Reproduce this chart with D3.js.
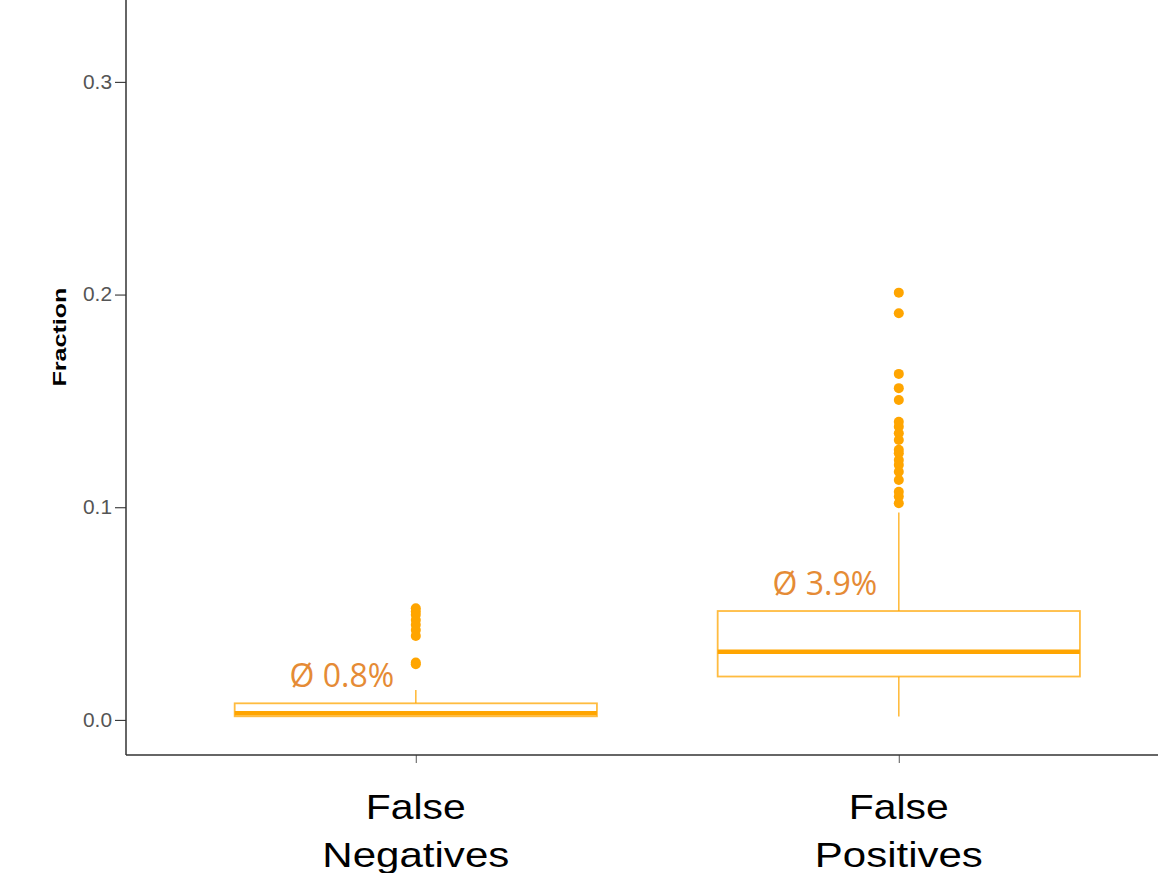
<!DOCTYPE html>
<html>
<head>
<meta charset="utf-8">
<script src="https://cdn.jsdelivr.net/npm/d3@7/dist/d3.min.js"></script>
<style>
  html, body { margin: 0; padding: 0; background: #ffffff; }
  svg { display: block; }
</style>
</head>
<body>
<svg id="chart" width="1158" height="873"></svg>
<script>
// Categories and their per-group box statistics (fractions)
const categories = ["False\nNegatives", "False\nPositives"];
const lowerWhisker = [0.0017, 0.0016];
const q1 = [0.0017, 0.0204];
const median = [0.0031, 0.0321];
const q3 = [0.0078, 0.0512];
const upperWhisker = [0.0141, 0.0975];
const meanLabels = ["Ø 0.8%", "Ø 3.9%"];

// Outlying observations per category
const outliersFN = [0.0525, 0.0510, 0.0494, 0.0470, 0.0447, 0.0423, 0.0395, 0.0270, 0.0262];
const outliersFP = [0.2009, 0.1912, 0.1627, 0.1560, 0.1504, 0.1402, 0.1379, 0.1348, 0.1316,
                    0.1270, 0.1254, 0.1222, 0.1199, 0.1167, 0.1128, 0.1073, 0.1050, 0.1019];
const outliers = [outliersFN, outliersFP];

const yTicks = [0.0, 0.1, 0.2, 0.3];

const svg = d3.select("#chart");
const mLeft = 126, mBottom = 755, mTop = 0, mRight = 1188.6;

const x = d3.scalePoint().domain(categories).range([mLeft, mRight]).padding(0.6);
const y = d3.scaleLinear().domain([-0.0165, 0.3385]).range([mBottom, mTop]);
const boxW = x.step() * 0.75;

const orange = "#FFA500";
const sans = "'Liberation Sans', Arial, sans-serif";

// Y axis
const yAxis = svg.append("g")
  .attr("transform", `translate(${mLeft},0)`)
  .call(d3.axisLeft(y).tickValues(yTicks).tickFormat(d3.format(".1f")).tickSize(11).tickPadding(3));
yAxis.select(".domain").remove();
yAxis.selectAll(".tick line").attr("stroke", "#333333").attr("stroke-width", 1.1);
yAxis.selectAll(".tick text")
  .attr("fill", "#555555")
  .attr("textLength", 29)
  .attr("lengthAdjust", "spacingAndGlyphs")
  .style("font-family", sans)
  .style("font-size", "20px");

// X axis
const xAxis = svg.append("g")
  .attr("transform", `translate(0,${mBottom})`)
  .call(d3.axisBottom(x).tickSize(8).tickFormat(""));
xAxis.select(".domain").remove();
xAxis.selectAll(".tick line").attr("stroke", "#666666").attr("stroke-width", 1.1);

// Category labels on two lines
const labelWidths = [[100, 187], [100, 168]];
categories.forEach((c, i) => {
  const lines = c.split("\n");
  lines.forEach((ln, j) => {
    svg.append("text")
      .attr("x", x(c))
      .attr("y", 819 + j * 48)
      .attr("text-anchor", "middle")
      .attr("textLength", labelWidths[i][j])
      .attr("lengthAdjust", "spacingAndGlyphs")
      .style("font-family", sans)
      .style("font-size", "35px")
      .attr("fill", "#000000")
      .text(ln);
  });
});

// Axis lines
svg.append("line").attr("x1", mLeft).attr("x2", mLeft).attr("y1", mTop).attr("y2", mBottom)
  .attr("stroke", "#333333").attr("stroke-width", 1.5);
svg.append("line").attr("x1", mLeft).attr("x2", 1158).attr("y1", mBottom).attr("y2", mBottom)
  .attr("stroke", "#333333").attr("stroke-width", 1.5);

// Y axis title
svg.append("text")
  .attr("transform", `translate(65.5,${y(0.18)}) rotate(-90)`)
  .attr("text-anchor", "middle")
  .attr("textLength", 99)
  .attr("lengthAdjust", "spacingAndGlyphs")
  .style("font-family", sans)
  .style("font-size", "19px")
  .style("font-weight", "bold")
  .attr("fill", "#000000")
  .text("Fraction");

// Boxes
const g = svg.append("g");
categories.forEach((c, i) => {
  const cx = x(c);
  // whiskers
  g.append("line").attr("x1", cx).attr("x2", cx)
    .attr("y1", y(q3[i])).attr("y2", y(upperWhisker[i]))
    .attr("stroke", orange).attr("stroke-opacity", 0.75).attr("stroke-width", 1.6);
  g.append("line").attr("x1", cx).attr("x2", cx)
    .attr("y1", y(q1[i])).attr("y2", y(lowerWhisker[i]))
    .attr("stroke", orange).attr("stroke-opacity", 0.75).attr("stroke-width", 1.6);
  // box
  g.append("rect")
    .attr("x", cx - boxW / 2).attr("width", boxW)
    .attr("y", y(q3[i])).attr("height", y(q1[i]) - y(q3[i]))
    .attr("fill", "#ffffff")
    .attr("stroke", orange).attr("stroke-opacity", 0.75).attr("stroke-width", 1.8);
  // median
  g.append("line")
    .attr("x1", cx - boxW / 2).attr("x2", cx + boxW / 2)
    .attr("y1", y(median[i])).attr("y2", y(median[i]))
    .attr("stroke", orange).attr("stroke-width", 4.5);
  // outliers
  g.selectAll(null).data(outliers[i]).enter().append("circle")
    .attr("cx", cx).attr("cy", d => y(d)).attr("r", 5)
    .attr("fill", orange);
  // mean annotation
  svg.append("text")
    .attr("x", cx - 74)
    .attr("y", y(q3[i]) - 16)
    .attr("text-anchor", "middle")
    .style("font-family", "'Open Sans', sans-serif")
    .style("font-size", "32px")
    .attr("fill", "#E58B35")
    .text(meanLabels[i]);
});
</script>
</body>
</html>
